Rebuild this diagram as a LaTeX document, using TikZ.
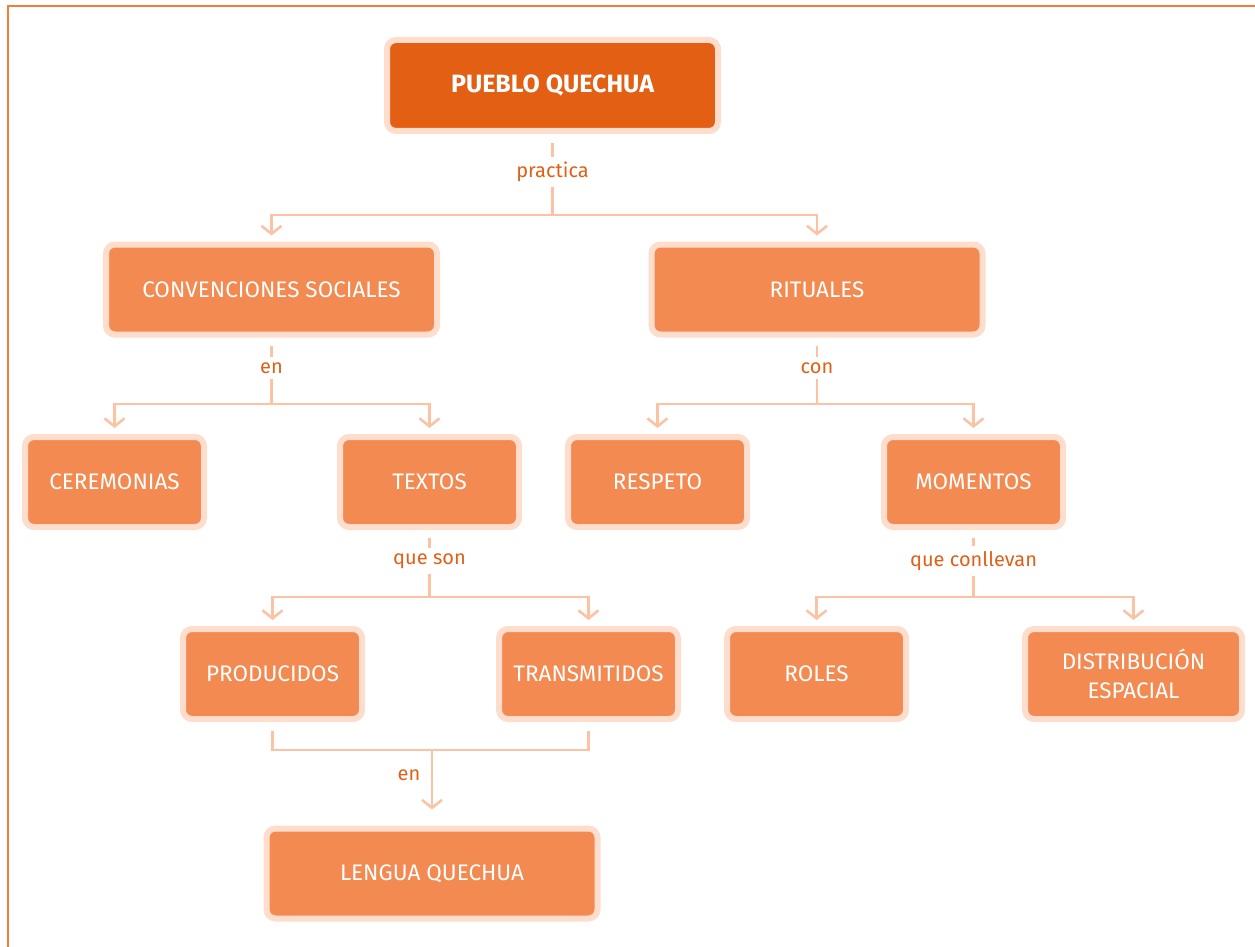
\documentclass[tikz,border=0pt]{standalone}
\usepackage{fontspec}
\setmainfont{Fira Sans}
\usetikzlibrary{arrows.meta,calc}

\definecolor{frameor}{HTML}{F07D3A}
\definecolor{headfill}{HTML}{E25F14}
\definecolor{boxfill}{HTML}{F28A52}
\definecolor{boxrim}{HTML}{FEDDCC}
\definecolor{linkcol}{HTML}{FBC3A3}
\definecolor{labcol}{HTML}{E06018}

\tikzset{
  concept/.style={draw=boxrim, line width=6pt, fill=boxfill, rounded corners=9pt,
    text=white, align=center, inner sep=0pt, minimum height=90pt,
    font=\fontsize{22.5}{29}\selectfont},
  headbox/.style={concept, fill=headfill, minimum height=91pt,
    font=\fontsize{25}{29}\selectfont\bfseries},
  wide/.style={minimum width=331pt},
  narrow/.style={minimum width=179pt},
  mid/.style={minimum width=217pt},
  conn/.style={draw=linkcol, line width=2.6pt},
  arr/.style={-{Straight Barb[length=8pt,width=20pt,line width=2.6pt]}, shorten >=6pt},
  linklab/.style={fill=white, text=labcol, inner sep=5pt, font=\fontsize{20}{22}\selectfont}
}

\begin{document}
\begin{tikzpicture}[x=1pt,y=-1pt]
  \useasboundingbox (0,0) rectangle (1255,947);
  % page frame: top and left rules
  \draw[frameor, line width=2pt] (7.5,947) -- (7.5,6.5) -- (1255,6.5);

  % concept boxes
  \node[headbox, wide]  (top)  at (552.5,85.5) {PUEBLO QUECHUA};
  \node[concept, wide]  (conv) at (271.5,289.5) {CONVENCIONES SOCIALES};
  \node[concept, wide]  (rit)  at (817,289.5) {RITUALES};
  \node[concept, narrow] (cer) at (114.5,482) {CEREMONIAS};
  \node[concept, narrow] (tex) at (429.5,482) {TEXTOS};
  \node[concept, narrow] (res) at (657.5,482) {RESPETO};
  \node[concept, narrow] (mom) at (973.5,482) {MOMENTOS};
  \node[concept, narrow] (pro) at (272.5,674) {PRODUCIDOS};
  \node[concept, narrow] (tra) at (588.5,674) {TRANSMITIDOS};
  \node[concept, narrow] (rol) at (816.5,674) {ROLES};
  \node[concept, mid]   (dis)  at (1133.5,674) {DISTRIBUCIÓN\\ESPACIAL};
  \node[concept, wide]  (len)  at (432,873.5) {LENGUA QUECHUA};

  % branching junctions
  \coordinate (j1) at (552.5,215);
  \coordinate (j2) at (271.5,404);
  \coordinate (j3) at (817,404);
  \coordinate (j4) at (429.5,597);
  \coordinate (j5) at (973.5,597);
  \coordinate (j6) at (432,750);

  % PUEBLO QUECHUA -> CONVENCIONES SOCIALES, RITUALES
  \draw[conn] ([yshift=-9pt]top.south) -- (j1);
  \draw[conn, arr] (j1) -| (conv.north);
  \draw[conn, arr] (j1) -| (rit.north);
  \node[linklab] (l1) at (552.5,172) {practica};

  % CONVENCIONES SOCIALES -> CEREMONIAS, TEXTOS
  \draw[conn] ([yshift=-8pt]conv.south) -- (j2);
  \draw[conn, arr] (j2) -| (cer.north);
  \draw[conn, arr] (j2) -| (tex.north);
  \node[linklab] (l2) at (271.5,368) {en};

  % RITUALES -> RESPETO, MOMENTOS
  \draw[conn] ([yshift=-8pt]rit.south) -- (j3);
  \draw[conn, arr] (j3) -| (res.north);
  \draw[conn, arr] (j3) -| (mom.north);
  \node[linklab] (l3) at (817,368) {con};

  % TEXTOS -> PRODUCIDOS, TRANSMITIDOS
  \draw[conn] ([yshift=-8pt]tex.south) -- (j4);
  \draw[conn, arr] (j4) -| (pro.north);
  \draw[conn, arr] (j4) -| (tra.north);
  \node[linklab] (l4) at (429.5,561) {que son};

  % MOMENTOS -> ROLES, DISTRIBUCIÓN ESPACIAL
  \draw[conn] ([yshift=-8pt]mom.south) -- (j5);
  \draw[conn, arr] (j5) -| (rol.north);
  \draw[conn, arr] (j5) -| (dis.north);
  \node[linklab] (l5) at (973.5,561) {que conllevan};

  % PRODUCIDOS, TRANSMITIDOS -> LENGUA QUECHUA
  \draw[conn] ([yshift=-9pt]pro.south) |- (j6);
  \draw[conn] ([yshift=-9pt]tra.south) |- (j6);
  \draw[conn, arr, shorten >=16pt] (j6) -- (len.north);
  \node[text=labcol, font=\fontsize{20}{22}\selectfont] (l6) at (409,775) {en};
\end{tikzpicture}
\end{document}
